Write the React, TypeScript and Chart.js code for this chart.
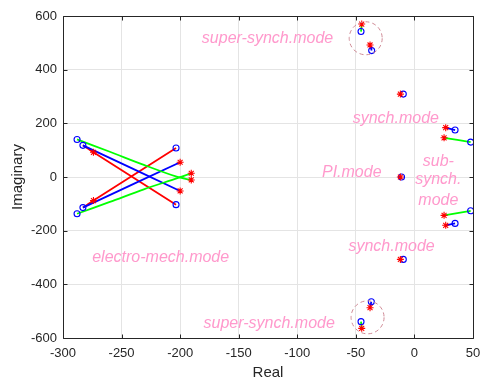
import React, { useEffect, useRef } from "react";
import { Chart, registerables } from "chart.js";

Chart.register(...registerables);

const FONT = "'Liberation Sans', Arial, Helvetica, sans-serif";

const X_TICKS = [-300, -250, -200, -150, -100, -50, 0, 50];
const Y_TICKS = [-600, -400, -200, 0, 200, 400, 600];

// eigenvalue traces (real, imaginary)
const redTraces: number[][][] = [
  [[-283, 118], [-274, 92], [-203.5, -103]],
  [[-283, -114], [-274, -88], [-203.5, 108]],
];
const blueTraces: number[][][] = [
  [[-283, 118], [-200, -52]],
  [[-283, -114], [-200, 55]],
  [[-36.5, 471], [-37.9, 492]],
  [[34.7, 175], [26.7, 184]],
  [[34.7, -173], [26.7, -180]],
  [[-36.8, -465], [-37.9, -487]],
];
const greenTraces: number[][][] = [
  [[-288, 140], [-260, 94], [-231, 45], [-203, 1], [-190.5, -11]],
  [[-288, -137], [-260, -93], [-231, -46], [-203, -5], [-190.5, 14]],
  [[-45.6, 542], [-45, 570]],
  [[48, 130], [25.3, 146]],
  [[48, -126], [25.3, -143]],
  [[-45.6, -539], [-45, -564]],
];

// start points (o)
const circlePoints: number[][] = [
  [-288, 140], [-283, 118], [-203.5, 108], [-203.5, -103], [-283, -114], [-288, -137],
  [-45.6, 542], [-36.5, 471], [-9.5, 309], [34.7, 175], [48, 130], [-11, 0],
  [48, -126], [34.7, -173], [-9.5, -307], [-36.8, -465], [-45.6, -539],
];
// end points (*)
const starPoints: number[][] = [
  [-274, 92], [-200, 55], [-190.5, 14], [-190.5, -11], [-200, -52], [-274, -88],
  [-45, 570], [-37.9, 492], [-12, 309], [26.7, 184], [25.3, 146], [-12, 0],
  [25.3, -143], [26.7, -180], [-12, -307], [-37.9, -487], [-45, -564],
];

// dashed rings around super-synchronous modes (centres)
const ringCentres: number[][] = [
  [-41.6, 517],
  [-40, -523],
];

// mode annotations
const modeLabels = [
  { text: "super-synch.mode", x: -125.4, y: 517 },
  { text: "synch.mode", x: -15.9, y: 219 },
  { text: "sub-", x: 20.4, y: 57 },
  { text: "synch.", x: 20.4, y: -11 },
  { text: "mode", x: 20.4, y: -86 },
  { text: "PI.mode", x: -53.5, y: 16 },
  { text: "synch.mode", x: -19.5, y: -260 },
  { text: "electro-mech.mode", x: -216.6, y: -299 },
  { text: "super-synch.mode", x: -124, y: -548 },
];

const toXY = (arr: number[][]) => arr.map(([x, y]) => ({ x, y }));

const overlayPlugin = {
  id: "overlay",
  afterDatasetsDraw(chart: any) {
    const { ctx, scales } = chart;
    const xs = scales.x;
    const ys = scales.y;
    ctx.save();
    // dashed rings
    ctx.strokeStyle = "#cf8a95";
    ctx.lineWidth = 1;
    ctx.setLineDash([4, 3]);
    ringCentres.forEach(([x, y]) => {
      ctx.beginPath();
      ctx.arc(xs.getPixelForValue(x), ys.getPixelForValue(y), 16.5, 0, Math.PI * 2);
      ctx.stroke();
    });
    ctx.setLineDash([]);
    // labels
    ctx.fillStyle = "#ff99cc";
    ctx.font = `italic 16px ${FONT}`;
    ctx.textAlign = "center";
    ctx.textBaseline = "middle";
    modeLabels.forEach((l) => {
      ctx.fillText(l.text, xs.getPixelForValue(l.x), ys.getPixelForValue(l.y));
    });
    ctx.restore();
  },
  afterDraw(chart: any) {
    const { ctx, chartArea: a, scales } = chart;
    const xs = scales.x;
    const ys = scales.y;
    ctx.save();
    ctx.strokeStyle = "#262626";
    ctx.lineWidth = 1;
    const L = Math.round(a.left) + 0.5;
    const R = Math.round(a.right) + 0.5;
    const T = Math.round(a.top) + 0.5;
    const B = Math.round(a.bottom) + 0.5;
    ctx.beginPath();
    ctx.rect(L, T, R - L, B - T);
    ctx.stroke();
    const tl = 4;
    ctx.beginPath();
    X_TICKS.forEach((v) => {
      const px = Math.round(xs.getPixelForValue(v)) + 0.5;
      ctx.moveTo(px, B);
      ctx.lineTo(px, B - tl);
      ctx.moveTo(px, T);
      ctx.lineTo(px, T + tl);
    });
    Y_TICKS.forEach((v) => {
      const py = Math.round(ys.getPixelForValue(v)) + 0.5;
      ctx.moveTo(L, py);
      ctx.lineTo(L + tl, py);
      ctx.moveTo(R, py);
      ctx.lineTo(R - tl, py);
    });
    ctx.stroke();
    // axis titles
    ctx.fillStyle = "#262626";
    ctx.font = `15px ${FONT}`;
    ctx.textAlign = "center";
    ctx.textBaseline = "middle";
    ctx.fillText("Real", (a.left + a.right) / 2, a.bottom + 35);
    ctx.translate(18, (a.top + a.bottom) / 2);
    ctx.rotate(-Math.PI / 2);
    ctx.fillText("Imaginary", 0, 0);
    ctx.restore();
  },
};

export default function App() {
  const ref = useRef<HTMLCanvasElement | null>(null);

  useEffect(() => {
    if (!ref.current) return;
    const lineDs = (traces: number[][][], color: string) =>
      traces.map((t) => ({
        data: toXY(t),
        showLine: true,
        borderColor: color,
        backgroundColor: color,
        borderWidth: 1.8,
        pointRadius: 0,
        tension: 0.3,
        order: 3,
      }));
    const datasets: any[] = [
      ...lineDs(greenTraces, "#00ff00"),
      ...lineDs(blueTraces, "#0000ff"),
      ...lineDs(redTraces, "#ff0000"),
      {
        data: toXY(circlePoints),
        showLine: false,
        pointStyle: "circle",
        pointRadius: 3,
        pointBorderColor: "#0000ff",
        pointBackgroundColor: "rgba(0,0,0,0)",
        pointBorderWidth: 1.1,
        order: 2,
      },
      {
        data: toXY(starPoints),
        showLine: false,
        pointStyle: "star",
        pointRadius: 3.5,
        pointBorderColor: "#ff0000",
        pointBackgroundColor: "#ff0000",
        pointBorderWidth: 1.1,
        order: 1,
      },
    ];
    const tickFont = { family: FONT, size: 13 };
    const chart = new Chart(ref.current, {
      type: "scatter",
      data: { datasets },
      options: {
        animation: false,
        responsive: false,
        maintainAspectRatio: false,
        layout: { padding: { top: 16, right: 9, left: 0, bottom: 0 } },
        plugins: { legend: { display: false }, tooltip: { enabled: false } },
        scales: {
          x: {
            type: "linear",
            min: -300,
            max: 50,
            afterBuildTicks: (s: any) => {
              s.ticks = X_TICKS.map((v) => ({ value: v }));
            },
            afterFit: (s: any) => {
              s.height = 43;
              s.paddingLeft = 0;
              s.paddingRight = 0;
            },
            grid: { color: "#e4e4e4", drawTicks: false },
            border: { display: false },
            ticks: { padding: 8, font: tickFont, color: "#262626", maxRotation: 0, autoSkip: false },
          },
          y: {
            type: "linear",
            min: -600,
            max: 600,
            afterBuildTicks: (s: any) => {
              s.ticks = Y_TICKS.map((v) => ({ value: v }));
            },
            afterFit: (s: any) => {
              s.width = 63;
              s.paddingTop = 0;
              s.paddingBottom = 0;
            },
            grid: { color: "#e4e4e4", drawTicks: false },
            border: { display: false },
            ticks: { padding: 6, font: tickFont, color: "#262626", autoSkip: false },
          },
        },
      },
      plugins: [overlayPlugin],
    });
    return () => chart.destroy();
  }, []);

  return (
    <div style={{ position: "absolute", left: 0, top: 0, width: 482, height: 381, background: "#fff" }}>
      <canvas ref={ref} width={482} height={381} style={{ display: "block" }} />
    </div>
  );
}
